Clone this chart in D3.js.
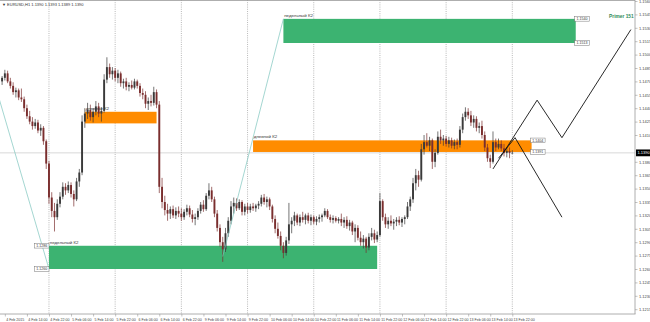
<!DOCTYPE html>
<html>
<head>
<meta charset="utf-8">
<script src="https://cdn.jsdelivr.net/npm/d3@7"></script>
<style>
  body { margin: 0; background: #fff; }
  svg { display: block; font-family: "Liberation Sans", Arial, sans-serif; }
</style>
</head>
<body>
<div id="chart"></div>
<script>
// EURUSD H1, 4 Feb - 13 Feb 2015
// each candle: [open, high, low, close] in pips above 1.1000
const candles = [
  [470,476,466,474],[474,483,471,479],[479,482,468,470],[470,474,462,465],[465,469,455,458],
  [458,463,452,460],[460,462,449,452],[452,462,447,450],[450,453,436,440],[440,444,428,431],
  [431,437,422,425],[425,430,416,420],[420,428,417,424],[424,427,412,415],[415,422,409,418],
  [418,420,399,403],[403,405,372,378],[378,381,333,340],[340,346,318,325],[325,334,302,318],
  [318,338,315,333],[333,346,329,341],[341,357,338,352],[352,356,343,348],[348,358,345,354],
  [354,357,340,344],[344,348,330,338],[338,362,336,358],[358,372,352,368],[368,432,365,425],
  [425,440,418,434],[434,446,428,438],[438,444,426,430],[430,440,424,436],[436,448,432,442],
  [442,446,430,434],[434,441,425,437],[437,478,435,472],[472,497,468,486],[486,490,474,478],
  [478,486,472,482],[482,485,470,474],[474,483,468,479],[479,481,464,468],[468,473,462,470],
  [470,474,460,464],[464,469,459,466],[466,471,461,463],[463,473,461,470],[470,472,462,465],
  [465,468,453,457],[457,462,450,455],[455,459,440,445],[445,452,438,448],[448,455,442,446],
  [446,464,443,458],[458,461,440,444],[444,448,345,352],[352,362,328,335],[335,342,320,326],
  [326,333,314,322],[322,330,316,327],[327,331,317,320],[320,329,316,325],[325,330,318,322],
  [322,328,314,318],[318,327,315,324],[324,332,320,328],[328,331,318,321],[321,326,312,316],
  [316,322,309,318],[318,328,315,325],[325,335,322,332],[332,337,324,327],[327,345,325,342],
  [342,356,338,348],[348,352,335,338],[338,341,318,322],[322,326,302,306],[306,310,285,290],
  [290,296,268,282],[282,306,279,300],[300,318,296,314],[314,336,310,330],[330,340,322,334],
  [334,339,325,328],[328,338,326,335],[335,337,320,324],[324,333,320,330],[330,334,322,326],
  [326,333,323,330],[330,334,325,328],[328,333,324,331],[331,336,327,333],[333,343,330,340],
  [340,344,332,335],[335,341,329,338],[338,340,326,330],[330,332,312,316],[316,320,300,305],
  [305,312,294,297],[297,302,281,286],[286,290,272,278],[278,296,275,292],[292,334,288,310],
  [310,318,300,314],[314,324,308,320],[320,322,309,312],[312,321,308,318],[318,324,312,315],
  [315,322,310,320],[320,323,311,314],[314,321,309,318],[318,320,310,313],[313,319,309,316],
  [316,321,312,318],[318,322,313,320],[320,328,318,325],[325,327,316,318],[318,321,312,315],
  [315,320,311,317],[317,319,312,314],[314,318,311,316],[316,322,308,312],[312,318,306,315],
  [315,319,305,308],[308,315,303,312],[312,314,298,302],[302,310,290,306],[306,309,292,295],
  [295,302,286,290],[290,298,283,294],[294,296,278,284],[284,300,281,296],[296,306,292,300],
  [300,304,289,293],[293,302,290,298],[298,345,296,336],[336,338,314,318],[318,322,306,310],
  [310,318,305,314],[314,320,308,311],[311,316,304,313],[313,318,308,315],[315,319,309,312],
  [312,318,307,316],[316,320,310,318],[318,335,316,330],[330,341,325,338],[338,362,334,356],
  [356,372,348,365],[365,370,352,360],[360,400,358,394],[394,410,388,402],[402,412,396,398],
  [398,408,392,404],[404,406,372,380],[380,394,374,390],[390,414,388,408],[408,416,400,404],
  [404,410,398,406],[406,409,397,400],[400,408,396,404],[404,407,395,398],[398,405,394,402],
  [402,406,394,399],[399,420,396,416],[416,434,412,430],[430,441,426,436],[436,440,428,432],
  [432,437,420,424],[424,432,418,428],[428,431,414,418],[418,424,412,420],[420,426,406,410],
  [410,414,392,396],[396,400,380,384],[384,388,373,380],[380,414,378,402],[402,406,392,396],
  [396,406,394,400],[400,404,392,395],[395,400,386,390],[390,396,385,392],[392,396,384,390],
  [390,393,389,390]
];

const priceTicks = [1.1560, 1.1545, 1.1530, 1.1515, 1.1500, 1.1485, 1.1470, 1.1455, 1.1440, 1.1425,
  1.1410, 1.1395, 1.1380, 1.1365, 1.1350, 1.1335, 1.1320, 1.1305, 1.1290, 1.1275, 1.1260, 1.1245,
  1.1230, 1.1215];

const timeLabels = ["4 Feb 2015", "4 Feb 14:00", "4 Feb 22:00", "5 Feb 06:00", "5 Feb 14:00",
  "5 Feb 22:00", "6 Feb 06:00", "6 Feb 14:00", "6 Feb 22:00", "9 Feb 06:00", "9 Feb 14:00",
  "9 Feb 22:00", "10 Feb 06:00", "10 Feb 14:00", "10 Feb 22:00", "11 Feb 06:00", "11 Feb 14:00",
  "11 Feb 22:00", "12 Feb 06:00", "12 Feb 14:00", "12 Feb 22:00", "13 Feb 06:00", "13 Feb 14:00",
  "13 Feb 22:00"];

// day separators (bar index)
const gridBars = [17, 41, 65, 89, 113, 137, 161, 185];

const title = "\u25BC EURUSD,H1 1.1390 1.1393 1.1389 1.1390";
const lastPrice = 1.1390;

// rectangles drawn on the chart, anchored from bar "from" to bar "to"
const zones = [
  { kind: "daily",  label: "дневной К2",   from: 30,  to: 56,  top: 1.1436, bottom: 1.1423, prices: false },
  { kind: "weekly", label: "недельный К2", from: 136, to: 17,  top: 1.1286, bottom: 1.1260, prices: true },
  { kind: "weekly", label: "недельный К2", from: 102, to: 208, top: 1.1540, bottom: 1.1513, prices: true },
  { kind: "daily",  label: "дневной К2",   from: 91,  to: 192, top: 1.1404, bottom: 1.1391, prices: true }
];

// thin trend lines [bar, price]
const trendLines = [
  [[-5, 1.1492], [17, 1.1260]],
  [[80, 1.1274], [102, 1.1540]]
];

// forecast paths [bar, price]
const forecastUp = [[178, 1.1372], [194, 1.1449], [203, 1.1407], [228, 1.1528]];
const forecastDown = [[180, 1.1384], [186, 1.1407], [203, 1.1318]];

const noteText = { text: "Primer 151", bar: 229, price: 1.1541 };

const width = 650, height = 322;
const plotRight = 635, plotBottom = 314;

const svg = d3.select("#chart").append("svg")
    .attr("width", width)
    .attr("height", height);

const x = d3.scaleLinear().domain([0, 185]).range([2.1, 512.3]);
const y = d3.scaleLinear().domain([1.1215, 1.1560]).range([309.2, 1]);
const pip = v => 1.1 + v / 10000;

svg.append("clipPath").attr("id", "plot")
    .append("rect").attr("x", 0).attr("y", 0).attr("width", plotRight).attr("height", plotBottom);

// grid
svg.append("g").selectAll("line").data(gridBars).join("line")
    .attr("x1", d => x(d)).attr("x2", d => x(d))
    .attr("y1", 0).attr("y2", plotBottom)
    .attr("stroke", "#8a8a8a").attr("stroke-width", 0.6)
    .attr("stroke-dasharray", "1,1.2");

// current price line
svg.append("line")
    .attr("x1", 0).attr("x2", plotRight)
    .attr("y1", y(lastPrice)).attr("y2", y(lastPrice))
    .attr("stroke", "#c8c8c8").attr("stroke-width", 0.7);

const plot = svg.append("g").attr("clip-path", "url(#plot)");

// zones
const zoneColor = { daily: "#ff8c00", weekly: "#3cb371" };
plot.selectAll(".zone").data(zones).join("rect")
    .attr("class", "zone")
    .attr("x", d => x(Math.min(d.from, d.to)))
    .attr("width", d => Math.abs(x(d.to) - x(d.from)))
    .attr("y", d => y(d.top))
    .attr("height", d => y(d.bottom) - y(d.top))
    .attr("fill", d => zoneColor[d.kind]);

// candles
const bars = plot.append("g").selectAll("g").data(candles).join("g");
const candleColor = d => d[3] >= d[0] ? "#3a3a3a" : "#7a2e2e";
bars.append("line")
    .attr("x1", (d, i) => x(i)).attr("x2", (d, i) => x(i))
    .attr("y1", d => y(pip(d[1]))).attr("y2", d => y(pip(d[2])))
    .attr("stroke", candleColor).attr("stroke-width", 0.7);
bars.append("rect")
    .attr("x", (d, i) => x(i) - 0.95)
    .attr("width", 1.9)
    .attr("y", d => y(pip(Math.max(d[0], d[3]))))
    .attr("height", d => Math.max(0.6, y(pip(Math.min(d[0], d[3]))) - y(pip(Math.max(d[0], d[3])))))
    .attr("fill", candleColor);

// trend lines
const line = d3.line().x(d => x(d[0])).y(d => y(d[1]));
plot.selectAll(".trend").data(trendLines).join("path")
    .attr("class", "trend")
    .attr("d", line)
    .attr("fill", "none").attr("stroke", "#7cc4bd").attr("stroke-width", 0.7);

// forecast
plot.selectAll(".forecast").data([forecastUp, forecastDown]).join("path")
    .attr("class", "forecast")
    .attr("d", line)
    .attr("fill", "none").attr("stroke", "#111").attr("stroke-width", 0.9);

// zone labels
plot.selectAll(".zlabel").data(zones).join("text")
    .attr("class", "zlabel")
    .attr("x", d => x(Math.min(d.from, d.to)) + 0.8)
    .attr("y", d => y(d.top) - 2)
    .attr("font-size", 4.4)
    .attr("fill", "#333")
    .text(d => d.label);

// price tags at the "to" end of each zone
const tags = [];
zones.filter(d => d.prices).forEach(d => {
  [d.top, d.bottom].forEach(p => tags.push({ zone: d, price: p }));
});
const tagW = 14.5, tagH = 4.6;
const tagX = t => t.zone.to > t.zone.from ? x(t.zone.to) - 1 : x(t.zone.to) - tagW;
const tagG = svg.append("g").selectAll("g").data(tags).join("g")
    .attr("transform", t => `translate(${tagX(t)},${y(t.price) - tagH / 2})`);
tagG.append("rect")
    .attr("width", tagW).attr("height", tagH)
    .attr("fill", "#fff").attr("stroke", "#777").attr("stroke-width", 0.5);
tagG.append("text")
    .attr("x", tagW / 2).attr("y", tagH - 1)
    .attr("text-anchor", "middle")
    .attr("font-size", 3.6).attr("fill", "#333")
    .text(t => t.price.toFixed(4));

// text note
svg.append("text")
    .attr("x", x(noteText.bar)).attr("y", y(noteText.price))
    .attr("text-anchor", "end")
    .attr("font-size", 4.8).attr("font-weight", "bold")
    .attr("fill", "#2e8b57")
    .text(noteText.text);

// borders
svg.append("line").attr("x1", 0).attr("x2", plotRight).attr("y1", 0.5).attr("y2", 0.5)
    .attr("stroke", "#999").attr("stroke-width", 0.8);
svg.append("line").attr("x1", 0).attr("x2", plotRight + 0.5).attr("y1", plotBottom).attr("y2", plotBottom)
    .attr("stroke", "#999").attr("stroke-width", 0.8);
svg.append("line").attr("x1", plotRight).attr("x2", plotRight).attr("y1", 0).attr("y2", plotBottom)
    .attr("stroke", "#999").attr("stroke-width", 0.8);

// right price axis
const visibleTicks = priceTicks.filter(t => Math.abs(y(t) - y(lastPrice)) > 6);
const yAxis = svg.append("g")
    .attr("transform", `translate(${plotRight},0)`)
    .call(d3.axisRight(y).tickValues(visibleTicks).tickSize(2.5).tickPadding(1.5)
      .tickFormat(d3.format(".4f")));
yAxis.select(".domain").remove();
yAxis.selectAll("line").attr("stroke", "#999").attr("stroke-width", 0.6);
yAxis.selectAll("text").attr("font-size", 4).attr("fill", "#444").attr("font-family", null);

// current price label
svg.append("rect")
    .attr("x", plotRight + 1).attr("y", y(lastPrice) - 3.4)
    .attr("width", 14).attr("height", 6.8).attr("fill", "#000");
svg.append("text")
    .attr("x", plotRight + 2.5).attr("y", y(lastPrice) + 1.5)
    .attr("font-size", 4).attr("fill", "#fff")
    .text(lastPrice.toFixed(4));

// bottom time axis
const labelBars = d3.range(1, 186, 8);
const xAxis = svg.append("g")
    .attr("transform", `translate(0,${plotBottom})`)
    .call(d3.axisBottom(x).tickValues(labelBars).tickSize(2.5)
      .tickFormat((d, i) => timeLabels[i]));
xAxis.select(".domain").remove();
xAxis.selectAll("line").attr("stroke", "#999").attr("stroke-width", 0.6);
xAxis.selectAll("text")
    .attr("font-size", 3.6).attr("fill", "#444").attr("font-family", null)
    .attr("text-anchor", "start").attr("x", 0.8).attr("y", 4).attr("dy", "0.71em");

// chart title
svg.append("text")
    .attr("x", 2).attr("y", 5.5)
    .attr("font-size", 4).attr("fill", "#333")
    .text(title);
</script>
</body>
</html>
